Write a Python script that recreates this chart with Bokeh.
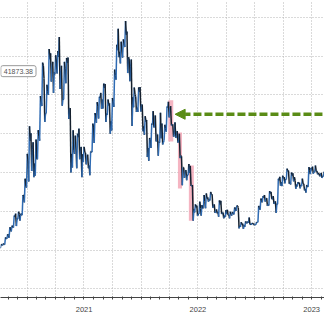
import numpy as np
import pandas as pd
from bokeh.plotting import figure
from bokeh.models import (FixedTicker, Range1d, Label, Arrow, NormalHead,
                          ColumnDataSource, Grid, DatetimeAxis)
from bokeh.embed import file_html
from bokeh.resources import INLINE

# ---------------- data (weekly, thousands of USD) ----------------
first_week = "2020-09-28"
close_k = [
    # 2020
    10.6, 11.4, 11.5, 13.0, 13.8, 15.5, 16.0, 18.7, 18.2, 19.2, 19.2, 23.9, 26.5, 33.0,
    # 2021
    38.2, 36.0, 32.3, 33.5, 39.3, 48.6, 57.5, 45.2, 50.9, 59.2, 57.6, 55.8, 58.2,
    59.8, 56.2, 49.0, 56.7, 58.2, 46.5, 34.8, 35.7, 35.8, 39.1, 35.5, 34.7, 35.3,
    34.2, 31.8, 35.4, 41.5, 44.6, 47.1, 49.3, 48.8, 51.8, 45.2, 47.3, 43.2, 48.2,
    55.0, 61.5, 61.1, 61.3, 63.3, 65.5, 59.7, 57.2, 49.4, 50.1, 46.7, 50.8, 47.3,
    # 2022
    41.9, 43.1, 36.3, 38.5, 42.4, 42.2, 38.3, 38.0, 38.8, 37.8, 41.3, 46.8, 46.4,
    42.2, 39.7, 39.5, 38.5, 34.3, 31.3, 30.3, 29.4, 29.9, 26.6, 20.6, 21.0, 19.3,
    20.8, 20.8, 22.6, 23.3, 23.2, 24.3, 21.5, 20.0, 19.8, 21.8, 19.4, 18.9, 19.3,
    19.1, 19.2, 19.6, 20.6, 21.3, 16.3, 16.6, 16.5, 17.1, 17.1, 16.8, 16.8, 16.6,
    # 2023
    17.1, 20.9, 22.7, 23.5, 23.3, 21.8, 24.6, 23.2, 22.4, 22.0, 28.0, 27.5, 28.5,
    28.3, 30.3, 27.6, 29.2, 28.8, 26.9, 27.1, 26.8, 27.1, 25.8, 26.3, 30.5, 30.6,
    30.2, 30.3, 29.9, 29.3, 29.1, 29.4,
]
high_k = [
    10.95, 11.5, 11.7, 13.3, 14.1, 15.9, 16.3, 18.9, 19.4, 19.9, 19.4, 24.2, 28.4, 34.8,
    41.9, 40.1, 37.8, 38.5, 40.9, 49.7, 58.3, 54.2, 52.6, 61.8, 60.7, 58.5, 60.2,
    61.3, 64.9, 57.5, 58.5, 59.5, 59.6, 46.6, 40.9, 39.5, 40.0, 41.3, 36.6, 36.6,
    35.1, 34.6, 35.4, 42.6, 45.3, 48.1, 49.5, 50.5, 52.9, 52.8, 48.8, 47.8, 49.2,
    56.5, 62.9, 67.0, 63.7, 64.3, 69.0, 66.3, 59.3, 59.1, 51.9, 49.5, 51.9, 52.0,
    47.5, 44.5, 43.5, 38.9, 42.6, 45.8, 44.7, 39.8, 45.4, 42.6, 42.3, 47.0, 48.2,
    47.1, 42.4, 42.9, 40.7, 40.0, 34.2, 31.3, 30.6, 32.2, 31.7, 26.8, 21.8, 21.5,
    22.5, 21.6, 24.2, 24.6, 23.6, 25.0, 24.4, 21.8, 20.5, 22.8, 22.7, 19.7, 20.3,
    20.4, 19.9, 19.8, 21.0, 21.5, 21.0, 17.2, 16.8, 17.4, 17.4, 18.4, 17.0, 16.9,
    17.2, 21.4, 23.3, 23.9, 24.2, 23.4, 25.2, 25.0, 23.9, 22.6, 28.4, 28.9, 29.2,
    28.8, 31.0, 30.5, 30.0, 29.8, 28.0, 27.5, 27.4, 28.4, 27.1, 26.8, 31.4, 31.2,
    31.5, 31.8, 30.4, 29.6, 29.9, 30.2,
]
low_k = [
    10.4, 10.5, 11.2, 11.4, 12.9, 13.2, 14.8, 15.8, 16.2, 18.0, 17.6, 19.0, 22.3, 26.1,
    27.7, 30.4, 28.8, 29.2, 33.4, 38.2, 47.1, 43.0, 45.2, 50.0, 53.4, 50.5, 55.3,
    55.5, 51.5, 47.2, 48.8, 53.0, 43.8, 30.0, 31.3, 34.8, 31.1, 33.4, 28.8, 32.7,
    32.1, 31.1, 29.3, 35.2, 37.6, 42.8, 43.9, 46.4, 46.5, 43.0, 44.8, 40.0, 40.8,
    46.9, 53.9, 59.7, 58.1, 59.6, 62.3, 55.6, 53.5, 42.0, 46.8, 45.6, 45.6, 45.7,
    40.6, 39.7, 34.0, 33.0, 36.3, 41.6, 38.0, 34.3, 37.7, 37.2, 38.2, 40.5, 44.2,
    42.1, 39.2, 38.9, 37.7, 33.7, 26.7, 28.6, 28.0, 29.3, 26.5, 17.6, 19.7, 18.8,
    19.3, 18.9, 20.8, 20.8, 22.5, 22.8, 20.9, 19.6, 19.5, 18.6, 19.3, 18.2, 18.5,
    19.0, 18.2, 18.9, 19.2, 20.1, 15.6, 16.0, 15.5, 16.0, 16.9, 16.6, 16.5, 16.4,
    16.5, 17.2, 20.4, 22.3, 22.5, 21.4, 21.5, 23.1, 21.9, 19.6, 21.8, 26.6, 26.5,
    27.2, 28.2, 27.1, 26.9, 27.7, 25.8, 26.4, 25.9, 26.5, 25.4, 24.8, 26.3, 29.6,
    29.7, 30.1, 29.5, 29.0, 28.6, 29.0,
]

# highlighted sell-off windows
crash_start = ["2022-03-29", "2022-04-29", "2022-06-03"]
crash_end = ["2022-04-14", "2022-05-12", "2022-06-19"]
crash_high_k = [48.6, 40.3, 31.8]
crash_low_k = [38.0, 25.9, 17.6]

# reference level arrow
arrow_level_k = 45.0
arrow_tip = "2022-04-20"
arrow_tail = "2023-10-15"

tag_text = "41873.38"
tag_level_k = 56.1
tag_date = "2020-10-08"

year_labels = ["2021", "2022", "2023"]
year_label_dates = ["2021-07-02", "2022-07-02", "2023-07-02"]
year_starts = ["2021-01-01", "2022-01-01", "2023-01-01"]

# ---------------- build price path ----------------
def ms(d):
    return pd.Timestamp(d).value / 1e6

n = len(close_k)
weeks = pd.date_range(first_week, periods=n, freq="7D")
px, py = [], []
prev = close_k[0]
for i in range(n):
    ws = weeks[i]
    c, h, l = close_k[i] * 1000, high_k[i] * 1000, low_k[i] * 1000
    if c >= prev * 1000 if i == 0 else c >= prev:
        a, b = l, h
    else:
        a, b = h, l
    px += [ws + pd.Timedelta(hours=36), ws + pd.Timedelta(hours=96), ws + pd.Timedelta(hours=156)]
    py += [a, b, c]
    prev = c
px = pd.to_datetime(px)
py = np.array(py)
seg = ColumnDataSource(dict(
    x0=px[:-1], y0=py[:-1], x1=px[1:], y1=py[1:],
    color=["#2f6bb3" if py[i + 1] > py[i] else "#15202e" for i in range(len(py) - 1)],
))

# ---------------- figure ----------------
y0, y1 = -2200, 74300
p = figure(width=324, height=315, x_axis_type="datetime", y_axis_location=None,
           toolbar_location=None, output_backend="svg",
           x_range=Range1d(pd.Timestamp("2020-10-07"), pd.Timestamp("2023-08-12")),
           y_range=Range1d(y0, y1),
           min_border_left=0, min_border_right=0, min_border_top=0, min_border_bottom=18)
p.outline_line_color = None
p.background_fill_color = "white"
for g in p.grid:
    g.visible = False

quarters = pd.date_range("2020-10-01", "2023-08-01", freq="QS")
p.add_layout(Grid(dimension=0, ticker=FixedTicker(ticks=[ms(q) for q in quarters]),
                  grid_line_color="#b5b5b5", grid_line_dash="1 2", grid_line_width=1))
p.add_layout(Grid(dimension=1, ticker=FixedTicker(ticks=list(range(0, 80000, 10000))),
                  grid_line_color="#b5b5b5", grid_line_dash="1 2", grid_line_width=1))

# bottom axis: year labels at mid-year, monthly minor ticks
months = pd.date_range("2020-10-01", "2023-08-01", freq="MS")
ax = p.xaxis[0]
ax.ticker = FixedTicker(ticks=[ms(d) for d in year_label_dates],
                        minor_ticks=[ms(m) for m in months])
ax.major_label_overrides = {ms(d): t for d, t in zip(year_label_dates, year_labels)}
ax.major_tick_out = 0
ax.major_tick_in = 0
ax.major_tick_line_color = None
ax.minor_tick_out = 2
ax.minor_tick_in = 1
ax.minor_tick_line_color = "#444444"
ax.axis_line_color = "#444444"
ax.major_label_text_font = "Liberation Sans"
ax.major_label_text_font_size = "7.5px"
ax.major_label_text_color = "#444444"
ax.major_label_standoff = 7

# year separators: long ticks hanging below the frame
sep = DatetimeAxis(ticker=FixedTicker(ticks=[ms(d) for d in year_starts], minor_ticks=[]),
                   fixed_location=y0, major_tick_in=13, major_tick_out=0,
                   minor_tick_in=0, minor_tick_out=0, axis_line_color=None,
                   major_tick_line_color="#9a9a9a", major_label_text_font_size="0px",
                   major_label_standoff=0, major_label_text_color=None)
p.add_layout(sep, "above")

# highlighted windows
p.quad(left=pd.to_datetime(crash_start), right=pd.to_datetime(crash_end),
       top=[v * 1000 for v in crash_high_k], bottom=[v * 1000 for v in crash_low_k],
       fill_color="#f2a3b3", fill_alpha=0.8, line_color=None)

# price
p.segment("x0", "y0", "x1", "y1", source=seg, line_color="color", line_width=1.5)

# arrow
green = "#5a8c16"
p.add_layout(Arrow(end=NormalHead(size=10, fill_color=green, line_color=green, line_width=1),
                   x_start=ms(arrow_tail), y_start=arrow_level_k * 1000,
                   x_end=ms(arrow_tip), y_end=arrow_level_k * 1000,
                   line_color=green, line_width=3.5, line_dash="8 3"))

# price tag
p.add_layout(Label(x=ms(tag_date), y=tag_level_k * 1000, text=tag_text,
                   text_font="Liberation Sans", text_font_size="7px", text_color="#555555",
                   text_baseline="middle", text_align="left",
                   background_fill_color="white", border_line_color="#9a9a9a",
                   padding=3, border_radius=2))

open("out.html", "w").write(file_html(p, INLINE))
